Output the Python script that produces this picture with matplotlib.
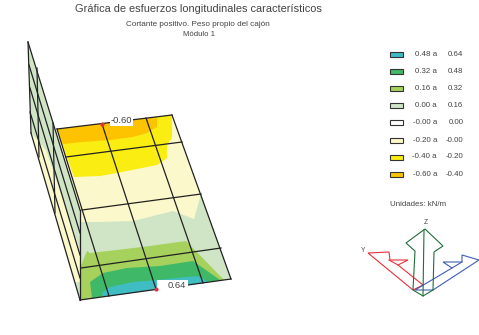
import matplotlib
matplotlib.use("Agg")
import matplotlib.pyplot as plt
from matplotlib.patches import Polygon, Rectangle

plt.rcParams["font.family"] = ["Liberation Sans", "DejaVu Sans"]

TITLE = "Gráfica de esfuerzos longitudinales característicos"
SUBTITLE = "Cortante positivo. Peso propio del cajón"
MODULE = "Módulo 1"
UNITS = "Unidades: kN/m"

LEGEND_LOW = ["0.48 a", "0.32 a", "0.16 a", "0.00 a", "-0.00 a", "-0.20 a", "-0.40 a", "-0.60 a"]
LEGEND_HIGH = ["0.64", "0.48", "0.32", "0.16", "0.00", "-0.00", "-0.20", "-0.40"]
LEGEND_COLORS = ["#3fbdc2", "#3fb868", "#a5d15c", "#cfe5c6", "#ffffff", "#fbf8cb", "#f9ed12", "#fdc300"]
LEGEND_Y = [54.5, 71.5, 88.5, 105.5, 122.5, 140, 157, 174]

# outlines in picture pixels
PLATE = [(57, 129), (172, 115), (231, 279), (80, 300), (80, 210)]
ORANGE = [(57, 129), (157, 117), (157, 127), (147, 133), (133, 137), (110, 140), (83, 142), (63, 144)]
YELLOW = [(57, 129), (172, 115), (172, 138), (167, 145), (167, 158), (157, 165), (117, 173), (100, 176), (74, 177)]
LIGHT_GREEN = [(80, 222), (97, 222), (133, 221), (173, 211), (194, 219), (201, 194), (231, 279), (80, 300)]
GREEN = [(87, 251), (90, 253), (117, 250), (150, 246), (186, 241), (224, 280), (80, 300), (80, 268)]
DARK_GREEN = [(90, 282), (103, 273), (127, 268), (160, 266), (193, 261), (220, 280), (92, 298)]
TEAL = [(102, 293), (110, 287), (133, 282), (157, 280), (197, 276), (209, 282), (103, 297)]

WALL = [(28, 42), (80, 210), (80, 300), (31, 133)]
WALL_PALE = [(31, 133), (46, 150), (80, 250), (80, 282), (74, 282)]

# wall mesh and plate mesh
WALL_LONG = [((28, 42), (80, 210)), ((29, 65), (80, 233)), ((30, 88), (80, 255)),
             ((30, 112), (80, 278)), ((31, 133), (80, 300))]
WALL_CROSS = [((28, 42), (31, 133)), ((37, 68), (39, 157)), ((53, 123), (55, 213)), ((80, 210), (80, 300))]
PLATE_LONG = [((57, 129), (109, 296)), ((102, 124), (156, 289)), ((146, 118), (203, 283)), ((172, 115), (231, 279))]
PLATE_CROSS = [((57, 129), (172, 115)), ((66, 157), (182, 142)), ((82, 210), (201, 194)),
               ((81, 268), (221, 248)), ((80, 300), (231, 279))]

MARKED = [(102, 124), (156, 289)]
MIN_LABEL = "-0.60"
MAX_LABEL = "0.64"

Z_ARROW = [(415, 251), (413, 290), (423, 296), (433, 290), (434, 252), (443, 246), (425, 229), (406, 243)]
Z_STEM = [(424, 230), (423, 296)]
Y_ARROW = [(368, 253), (389, 252), (390, 260), (408, 260), (398, 265), (423, 285), (413, 290)]
Y_STEM = [(398, 265), (389, 260)]
X_ARROW = [(479, 260), (462, 255), (462, 262), (443, 262), (452, 268), (415, 290), (433, 290)]
X_STEM = [(452, 268), (462, 262)]

fig = plt.figure(figsize=(4.79, 3.35), dpi=100)
ax = fig.add_axes([0, 0, 1, 1])
ax.set_xlim(0, 479)
ax.set_ylim(335, 0)
ax.axis("off")

TEXT = "#444444"
ax.text(198, 9.5, TITLE, ha="center", va="center", fontsize=7.9, color=TEXT)
ax.text(198, 24, SUBTITLE, ha="center", va="center", fontsize=5.9, color=TEXT)
ax.text(199, 35, MODULE, ha="center", va="center", fontsize=5.6, color=TEXT)

# folded wall behind the plate
ax.add_patch(Polygon(WALL, closed=True, fc="#cfe5c6", ec="none", zorder=1))
ax.add_patch(Polygon(WALL_PALE, closed=True, fc="#fbf8cb", ec="none", zorder=1))

# stress bands, lowest first
ax.add_patch(Polygon(PLATE, closed=True, fc="#fbf8cb", ec="none", zorder=2))
for band, color in [(YELLOW, "#f9ed12"), (ORANGE, "#fdc300"), (LIGHT_GREEN, "#cfe5c6"),
                    (GREEN, "#a5d15c"), (DARK_GREEN, "#3fb868"), (TEAL, "#3fbdc2")]:
    ax.add_patch(Polygon(band, closed=True, fc=color, ec="none", zorder=2))

for a, b in WALL_LONG + WALL_CROSS + PLATE_LONG + PLATE_CROSS:
    ax.plot([a[0], b[0]], [a[1], b[1]], color="#222222", lw=0.9, zorder=3)

for x, y in MARKED:
    ax.plot(x, y, "o", ms=3.0, color="#e8303a", mec="none", zorder=5)

ax.add_patch(Rectangle((110, 116), 23, 10, fc="white", ec="none", zorder=4))
ax.text(121.5, 120.5, MIN_LABEL, ha="center", va="center", fontsize=6.8, color=TEXT, zorder=5)
ax.add_patch(Rectangle((157, 280), 31, 10, fc="white", ec="none", zorder=4))
ax.text(177, 285.5, MAX_LABEL, ha="center", va="center", fontsize=6.8, color=TEXT, zorder=5)

for low, high, color, y in zip(LEGEND_LOW, LEGEND_HIGH, LEGEND_COLORS, LEGEND_Y):
    ax.add_patch(Rectangle((390.5, y - 2.5), 13, 5, fc=color, ec="#333333", lw=0.8, zorder=3))
    ax.text(437, y, low, ha="right", va="center", fontsize=5.7, color=TEXT)
    ax.text(463.5, y, high, ha="right", va="center", fontsize=5.7, color=TEXT)
ax.text(390, 204, UNITS, ha="left", va="center", fontsize=5.7, color=TEXT)

# axis triad
for pts, stem, color in [(Y_ARROW, Y_STEM, "#e8303a"), (X_ARROW, X_STEM, "#3f5fae"), (Z_ARROW, Z_STEM, "#1f6e3a")]:
    ax.add_patch(Polygon(pts, closed=True, fc="none", ec=color, lw=0.8, zorder=3, clip_on=True))
    ax.plot([stem[0][0], stem[1][0]], [stem[0][1], stem[1][1]], color=color, lw=0.8, zorder=3)
ax.text(426, 222, "Z", ha="center", va="center", fontsize=4.8, color=TEXT)
ax.text(363, 250.5, "Y", ha="center", va="center", fontsize=4.8, color=TEXT)

fig.savefig("out.png", dpi=100)
